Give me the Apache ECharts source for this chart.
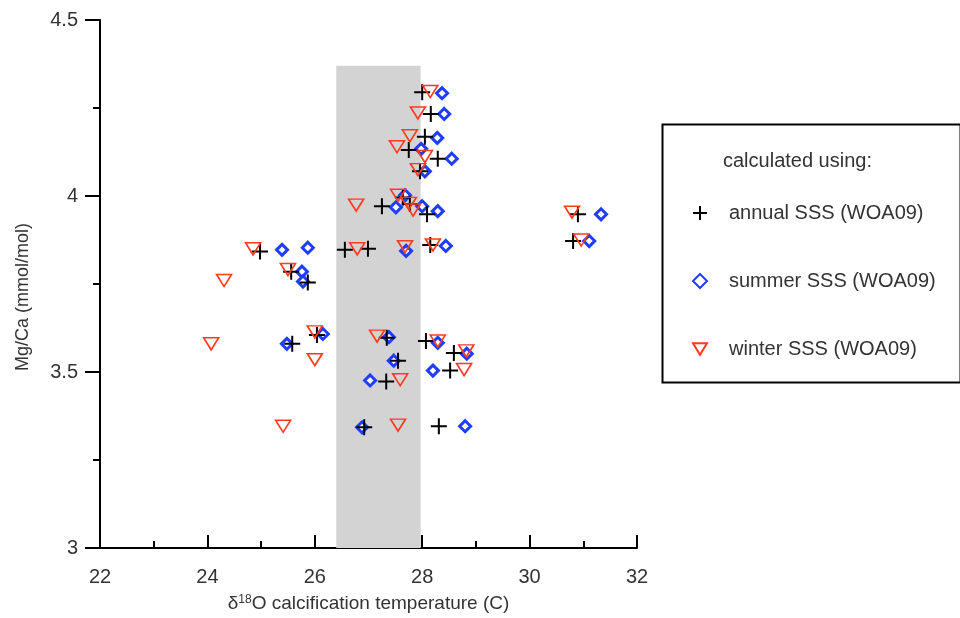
<!DOCTYPE html>
<html>
<head>
<meta charset="utf-8">
<script src="https://cdn.jsdelivr.net/npm/echarts@6/dist/echarts.min.js"></script>
<style>html,body{margin:0;padding:0;background:#fff;}#c{width:960px;height:618px;}</style>
</head>
<body>
<div id="c"></div>
<script>
// Data: [temperature (C), Mg/Ca (mmol/mol)]
const annualSSS = [
  [28.00,4.295],[28.16,4.233],[28.05,4.168],[27.75,4.131],[28.29,4.106],[27.96,4.070],
  [27.25,3.971],[27.64,3.996],[27.77,3.977],[28.09,3.948],[30.90,3.948],[30.81,3.872],
  [24.98,3.842],[26.56,3.847],[26.99,3.850],[28.15,3.861],[25.56,3.785],[25.87,3.754],
  [25.58,3.580],[26.04,3.605],[27.34,3.597],[27.55,3.532],[28.07,3.588],[28.59,3.554],
  [28.52,3.504],[27.33,3.473],[26.92,3.343],[28.31,3.346]
];
const summerSSS = [
  [28.37,4.292],[28.41,4.233],[28.28,4.165],[27.98,4.134],[28.55,4.106],[28.05,4.070],
  [27.51,3.968],[27.68,4.002],[28.00,3.971],[28.29,3.957],[31.33,3.948],[31.11,3.872],
  [25.39,3.847],[25.87,3.853],[27.70,3.844],[28.44,3.858],[25.76,3.785],[25.78,3.757],
  [25.48,3.580],[26.15,3.608],[27.38,3.599],[27.47,3.532],[28.29,3.583],[28.83,3.552],
  [28.20,3.504],[27.03,3.476],[26.88,3.343],[28.80,3.346]
];
const winterSSS = [
  [28.15,4.297],[27.92,4.236],[27.77,4.171],[27.53,4.140],[28.05,4.112],[27.92,4.075],
  [26.77,3.974],[27.55,4.002],[27.75,3.979],[27.83,3.960],[30.79,3.954],[30.96,3.875],
  [24.85,3.850],[26.79,3.850],[27.68,3.856],[28.20,3.861],[25.50,3.791],[24.31,3.760],
  [24.07,3.580],[26.00,3.614],[27.16,3.602],[26.00,3.535],[28.29,3.588],[28.82,3.560],
  [28.78,3.507],[27.59,3.478],[25.41,3.346],[27.55,3.349]
];
const bandX = [26.4, 27.97];
const bandY = [3.0, 4.37];
const seriesNames = ['annual SSS (WOA09)', 'summer SSS (WOA09)', 'winter SSS (WOA09)'];
const legendTitle = 'calculated using:';
const xTicks = {min: 22, max: 32, interval: 2};
const yTicks = {min: 3, max: 4.5, interval: 0.5};

const chart = echarts.init(document.getElementById('c'), null, {renderer: 'canvas'});
const font = '"Liberation Sans", Arial, sans-serif';
const txt = '#333';
const option = {
  backgroundColor: '#fff',
  animation: false,
  grid: {left: 100, right: 323, top: 20, bottom: 64},
  xAxis: {
    type: 'value', min: xTicks.min, max: xTicks.max, interval: xTicks.interval,
    name: '{a|δ}{s|18}{a|O calcification temperature (C)}',
    nameLocation: 'middle', nameGap: 46,
    nameTextStyle: {rich: {
      a: {fontSize: 19, color: txt, fontFamily: font},
      s: {fontSize: 12, color: txt, fontFamily: font, padding: [0, 0, 7, 0]}
    }},
    axisLine: {lineStyle: {color: '#000', width: 2}},
    axisTick: {inside: true, length: 13, lineStyle: {color: '#000', width: 2}},
    minorTick: {show: true, splitNumber: 2, length: 7, lineStyle: {color: '#000', width: 2}},
    axisLabel: {fontSize: 20, color: txt, fontFamily: font, margin: 19},
    splitLine: {show: false}
  },
  yAxis: {
    type: 'value', min: yTicks.min, max: yTicks.max, interval: yTicks.interval,
    name: 'Mg/Ca (mmol/mol)', nameLocation: 'middle', nameGap: 68,
    nameTextStyle: {fontSize: 18, color: txt, fontFamily: font, padding: [0, 26, 0, 0]},
    axisLine: {lineStyle: {color: '#000', width: 2}},
    axisTick: {inside: false, length: 15, lineStyle: {color: '#000', width: 2}},
    minorTick: {show: true, splitNumber: 2, length: 7, lineStyle: {color: '#000', width: 2}},
    axisLabel: {fontSize: 20, color: txt, fontFamily: font, margin: 22},
    splitLine: {show: false}
  },
  legend: {
    data: seriesNames,
    orient: 'vertical', left: 687, top: 198,
    itemWidth: 14, itemHeight: 14, itemGap: 48,
    textStyle: {fontSize: 20, color: txt, fontFamily: font, padding: [0, 0, 0, 17]},
    selectedMode: false
  },
  graphic: [
    {type: 'rect', left: 660, top: 122, shape: {width: 298, height: 258},
     style: {fill: 'none', stroke: '#000', lineWidth: 2}, z: 0},
    {type: 'text', left: 723, top: 151,
     style: {text: legendTitle, fontSize: 20, fill: txt, fontFamily: font}}
  ],
  series: [
    {
      name: 'band', type: 'scatter', data: [], z: 1, silent: true,
      markArea: {silent: true, itemStyle: {color: '#d3d3d3'},
        data: [[{xAxis: bandX[0], yAxis: bandY[0]}, {xAxis: bandX[1], yAxis: bandY[1]}]]}
    },
    {
      name: seriesNames[0], type: 'scatter', data: annualSSS, z: 4,
      symbol: 'path://M0,5L10,5M5,0L5,10', symbolSize: 16,
      itemStyle: {color: 'rgba(0,0,0,0)', borderColor: '#000', borderWidth: 2, opacity: 1}
    },
    {
      name: seriesNames[1], type: 'scatter', data: summerSSS, z: 3,
      symbol: 'diamond', symbolSize: 11,
      itemStyle: {color: '#fff', borderColor: '#1f3dff', borderWidth: 3, opacity: 1}
    },
    {
      name: seriesNames[2], type: 'scatter', data: winterSSS, z: 5,
      symbol: 'path://M0,0L12,0L6,10Z', symbolSize: [15, 12],
      itemStyle: {color: 'rgba(0,0,0,0)', borderColor: '#ff3b1f', borderWidth: 1.6, opacity: 1}
    }
  ]
};
chart.setOption(option);
</script>
</body>
</html>
